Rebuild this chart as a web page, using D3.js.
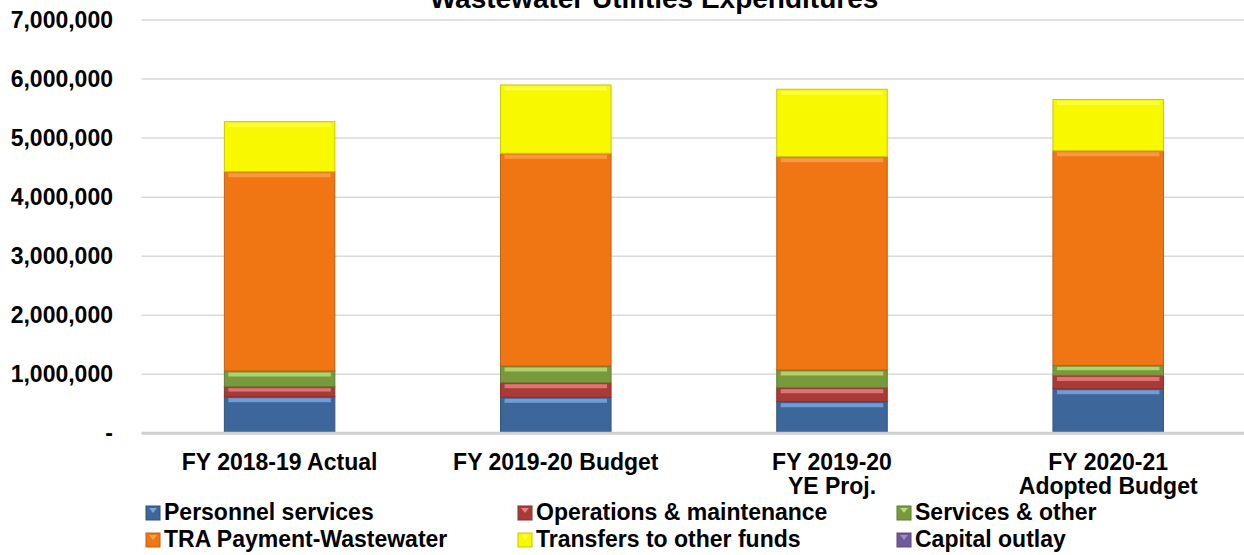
<!DOCTYPE html>
<html>
<head>
<meta charset="utf-8">
<script src="https://cdn.jsdelivr.net/npm/d3@7"></script>
<style>
  html, body { margin: 0; padding: 0; background: #ffffff; }
  svg { display: block; font-family: "Liberation Sans", Arial, sans-serif; font-weight: bold; }
</style>
</head>
<body>
<svg id="chart" width="1244" height="555"></svg>
<script>
const title = "Wastewater Utilities Expenditures";
const categories = ["FY 2018-19 Actual", "FY 2019-20 Budget", "FY 2019-20\nYE Proj.", "FY 2020-21\nAdopted Budget"];
const seriesNames = ["Personnel services", "Operations & maintenance", "Services & other", "TRA Payment-Wastewater", "Transfers to other funds", "Capital outlay"];
const personnel   = [620000, 610000, 535000, 755000];
const operations  = [169000, 247000, 237000, 225000];
const services    = [266000, 283000, 300000, 170000];
const traPayment  = [3376000, 3602000, 3613000, 3635000];
const transfers   = [847000, 1158000, 1142000, 869000];
const capital     = [0, 0, 0, 0];
const yTicks = [0, 1000000, 2000000, 3000000, 4000000, 5000000, 6000000, 7000000];

const seriesValues = [personnel, operations, services, traPayment, transfers, capital];
const colors    = ["#3d669b", "#a83a37", "#789a3c", "#f07614", "#f8f800", "#6f5a97"];
const highlight = ["#7aa6e0", "#e88080", "#b8dc78", "#f9a04a", "#ffff4a", "#a08cc8"];

const svg = d3.select("#chart");

const table = categories.map((c, i) => {
  const row = { cat: c };
  seriesNames.forEach((s, k) => row[s] = seriesValues[k][i]);
  return row;
});
const stacked = d3.stack().keys(seriesNames)(table);

const x = d3.scaleBand().domain(categories).range([141.5, 1246.3]).padding(0);
const y = d3.scaleLinear().domain([0, 7000000]).range([433.3, 20]);
const barW = x.bandwidth() * 0.4;

// gridlines
svg.append("g").selectAll("line").data(yTicks.filter(d => d > 0)).join("line")
  .attr("x1", 141.5).attr("x2", 1244)
  .attr("y1", d => y(d)).attr("y2", d => y(d))
  .attr("stroke", "#d9d9d9").attr("stroke-width", 1.5);

// y labels
svg.append("g").selectAll("text").data(yTicks).join("text")
  .attr("x", 113).attr("y", d => y(d)).attr("dy", "0.35em")
  .attr("text-anchor", "end").attr("font-size", 23).attr("fill", "#000")
  .text(d => d === 0 ? "-" : d3.format(",")(d));

// bars
const layers = svg.append("g").selectAll("g").data(stacked).join("g");
layers.each(function(layer, k) {
  const g = d3.select(this);
  const segs = layer.filter(d => d[1] - d[0] > 0);
  g.selectAll("rect.main").data(segs).join("rect").attr("class", "main")
    .attr("x", d => x(d.data.cat) + (x.bandwidth() - barW) / 2)
    .attr("width", barW)
    .attr("y", d => y(d[1]))
    .attr("height", d => y(d[0]) - y(d[1]))
    .attr("fill", colors[k])
    .attr("stroke", d3.color(colors[k]).darker(0.6))
    .attr("stroke-width", 1);
  g.selectAll("rect.hl").data(segs).join("rect").attr("class", "hl")
    .attr("x", d => x(d.data.cat) + (x.bandwidth() - barW) / 2 + 4)
    .attr("width", barW - 8)
    .attr("y", d => y(d[1]) + 1.5)
    .attr("height", d => Math.min(4, (y(d[0]) - y(d[1])) / 3))
    .attr("fill", highlight[k]).attr("opacity", 0.85);
});

// baseline axis
svg.append("line").attr("x1", 141.5).attr("x2", 1244)
  .attr("y1", y(0)).attr("y2", y(0))
  .attr("stroke", "#d0d0d0").attr("stroke-width", 3);

// category labels
const cl = svg.append("g").selectAll("text").data(categories).join("text")
  .attr("x", d => x(d) + x.bandwidth() / 2)
  .attr("y", 470).attr("text-anchor", "middle").attr("font-size", 23).attr("fill", "#000");
cl.each(function(d) {
  const t = d3.select(this);
  d.split("\n").forEach((line, i) => {
    t.append("tspan").attr("x", x(d) + x.bandwidth() / 2).attr("y", 470 + i * 24).text(line);
  });
});

// title
svg.append("text").attr("x", 654).attr("y", 7.5).attr("text-anchor", "middle")
  .attr("font-size", 28).attr("fill", "#000").text(title);

// legend
const legCols = [146, 518, 897];
const legRows = [520, 547];
const leg = svg.append("g").selectAll("g").data(seriesNames).join("g")
  .attr("transform", (d, i) => `translate(${legCols[i % 3]},${legRows[Math.floor(i / 3)]})`);
leg.append("rect").attr("x", 0).attr("y", -14).attr("width", 14).attr("height", 14)
  .attr("fill", (d, i) => colors[i])
  .attr("stroke", (d, i) => d3.color(colors[i]).darker(0.6)).attr("stroke-width", 1);
leg.append("path").attr("d", "M3,-12 L11,-12 L7,-7 Z")
  .attr("fill", (d, i) => highlight[i]);
leg.append("text").attr("x", 18).attr("y", 0).attr("font-size", 23).attr("fill", "#000").text(d => d);
</script>
</body>
</html>
